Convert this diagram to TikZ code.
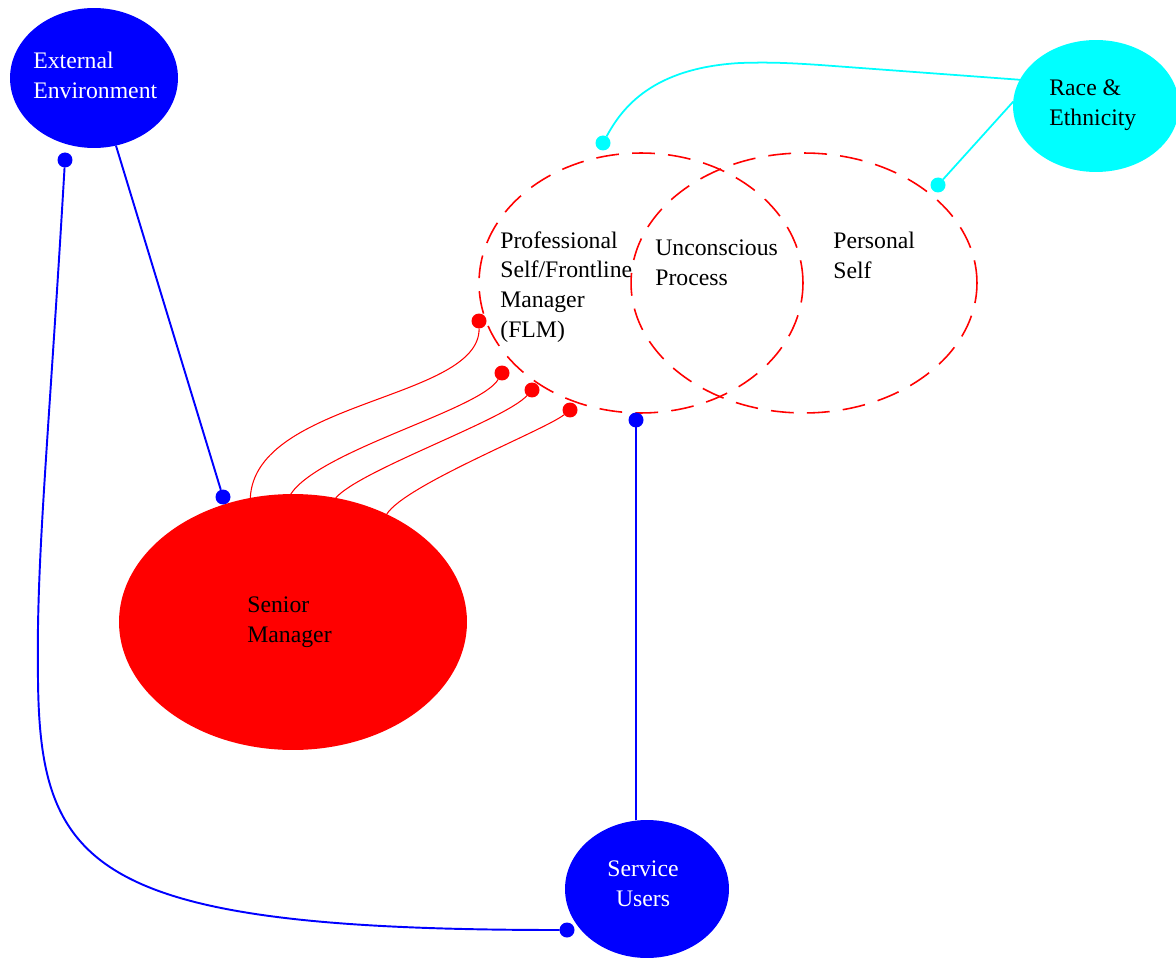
\documentclass[tikz,border=0pt]{standalone}
\usepackage{fontspec}
\setmainfont{Liberation Serif}
\usetikzlibrary{shapes.geometric}
\definecolor{pblue}{RGB}{0,0,255}
\definecolor{pcyan}{RGB}{0,255,255}
\definecolor{pred}{RGB}{255,0,0}
\tikzset{
  blob/.style={ellipse, inner sep=0pt, outer sep=0pt, draw=none},
  ring/.style={ellipse, inner sep=0pt, outer sep=0pt, draw=pred, line width=0.9pt, dash pattern=on 13pt off 7.5pt},
  lbl/.style={inner sep=0pt, align=left, font=\fontsize{13.5}{17}\selectfont},
  dotnode/.style={circle, inner sep=0pt, outer sep=0pt, minimum size=0.3cm},
  bline/.style={draw=pblue, line width=1.1pt},
  cline/.style={draw=pcyan, line width=1pt},
  rline/.style={draw=pred, line width=0.6pt},
}
\begin{document}
\begin{tikzpicture}[x=0.02cm,y=-0.02cm]
\useasboundingbox (0,0) rectangle (1176,959);
% dashed circles
\node[ring, minimum width=6.48cm, minimum height=5.2cm] (prof) at (641,283) {};
\node[ring, minimum width=6.92cm, minimum height=5.2cm] (pers) at (804,283) {};
% filled ellipses
\node[blob, fill=pblue, minimum width=3.36cm, minimum height=2.8cm] (ee) at (94,78) {};
\node[blob, fill=pcyan, minimum width=3.32cm, minimum height=2.64cm] (re) at (1096,106) {};
\node[blob, fill=pred, minimum width=6.96cm, minimum height=5.12cm] (sm) at (293,622) {};
\node[blob, fill=pblue, minimum width=3.28cm, minimum height=2.76cm] (su) at (647,889) {};
% labels
\node[lbl, anchor=west, text=white] (eet) at (33,75) {External\\Environment};
\node[lbl, anchor=west] (ret) at (1049,105) {Race \&\\Ethnicity};
\node[lbl, anchor=west] (smt) at (247,622) {Senior\\Manager};
\node[lbl, anchor=center, align=center, text=white] (sut) at (643,884) {Service\\Users};
\node[lbl, anchor=west] (proft) at (500,287) {Professional\\Self/Frontline\\Manager\\(FLM)};
\node[lbl, anchor=west] (unct) at (655,263) {Unconscious\\Process};
\node[lbl, anchor=west] (perst) at (833,255) {Personal\\Self};
% dots
\node[dotnode, fill=pblue] (bd1) at (65,160) {};
\node[dotnode, fill=pblue] (bd2) at (223,497) {};
\node[dotnode, fill=pblue] (bd3) at (636,420) {};
\node[dotnode, fill=pblue] (bd4) at (567,930) {};
\node[dotnode, fill=pcyan] (cd1) at (603,143) {};
\node[dotnode, fill=pcyan] (cd2) at (938,185) {};
\node[dotnode, fill=pred] (rd1) at (479,321) {};
\node[dotnode, fill=pred] (rd2) at (502,373) {};
\node[dotnode, fill=pred] (rd3) at (532,390) {};
\node[dotnode, fill=pred] (rd4) at (570,410) {};
% blue connectors
\draw[bline] (ee.-72) -- (bd2);
\draw[bline] (bd1) .. controls (48,450) and (36,560) .. (38,680) .. controls (40,870) and (95,930) .. (bd4);
\draw[bline] (bd3) -- (bd3 |- su.north);
% cyan connectors
\draw[cline] (cd1) .. controls (622,108) and (652,68) .. (740,63) .. controls (770,62) and (790,63) .. (820,65) -- (re.161);
\draw[cline] (cd2) -- (re.177);
% red connectors
\draw[rline] (sm.109) .. controls (255,400) and (480,400) .. (rd1);
\draw[rline] (sm.91) .. controls (320,450) and (480,410) .. (rd2);
\draw[rline] (sm.71) .. controls (360,470) and (505,420) .. (rd3);
\draw[rline] (sm.49.5) .. controls (405,485) and (545,430) .. (rd4);
\end{tikzpicture}
\end{document}
